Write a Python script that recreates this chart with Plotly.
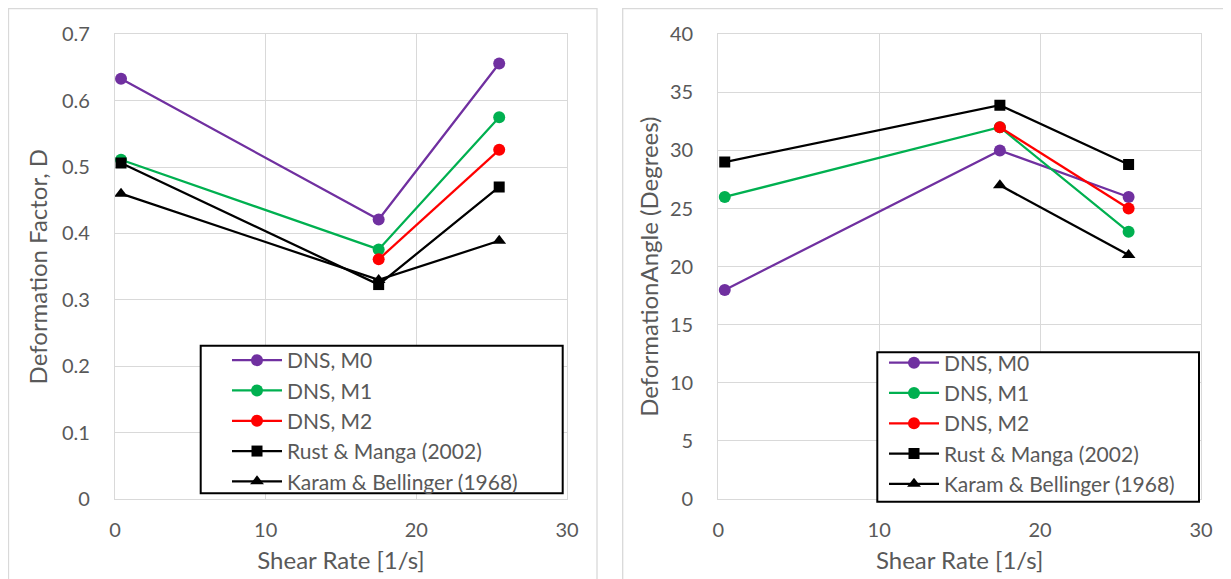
import plotly.graph_objects as go

# ---------------- data ----------------
shear_rate = [0.4, 17.5, 25.5]
shear_rate_m2 = [17.5, 25.5]
shear_rate_karam_ang = [17.5, 25.5]

d_m0 = [0.633, 0.421, 0.656]
d_m1 = [0.511, 0.376, 0.575]
d_m2 = [0.361, 0.526]
d_rust = [0.506, 0.323, 0.470]
d_karam = [0.460, 0.330, 0.389]

ang_m0 = [18, 30, 26]
ang_m1 = [26, 32, 23]
ang_m2 = [32, 25]
ang_rust = [29, 33.9, 28.8]
ang_karam = [27, 21]

names = ["DNS, M0", "DNS, M1", "DNS, M2", "Rust & Manga (2002)", "Karam & Bellinger (1968)"]
colors = ["#7030A0", "#00B050", "#FF0000", "#000000", "#000000"]
symbols = ["circle", "circle", "circle", "square", "triangle-up"]
sizes = [12, 12, 12, 11, 12]

W, H = 1231, 579
OFF = 8  # page body margin offset
FONT = "Lato"
GRAY = "#595959"
GRID = "#D9D9D9"


def px_x(p):
    return (p - OFF) / W


def px_y(p):
    return 1 - (p - OFF) / H


fig = go.Figure()

left_series = [(shear_rate, d_m0), (shear_rate, d_m1), (shear_rate_m2, d_m2),
               (shear_rate, d_rust), (shear_rate, d_karam)]
right_series = [(shear_rate, ang_m0), (shear_rate, ang_m1), (shear_rate_m2, ang_m2),
                (shear_rate, ang_rust), (shear_rate_karam_ang, ang_karam)]

for i, (xs, ys) in enumerate(left_series):
    fig.add_trace(go.Scatter(
        x=xs, y=ys, name=names[i], mode="lines+markers",
        line=dict(color=colors[i], width=2.25),
        marker=dict(color=colors[i], symbol=symbols[i], size=sizes[i]),
        xaxis="x", yaxis="y", legend="legend"))

for i, (xs, ys) in enumerate(right_series):
    fig.add_trace(go.Scatter(
        x=xs, y=ys, name=names[i], mode="lines+markers",
        line=dict(color=colors[i], width=2.25),
        marker=dict(color=colors[i], symbol=symbols[i], size=sizes[i]),
        xaxis="x2", yaxis="y2", legend="legend2"))

axis_common = dict(
    showgrid=True, gridcolor=GRID, gridwidth=1.3,
    showline=True, linecolor=GRID, linewidth=1.3, mirror=True,
    zeroline=False, ticks="", automargin=False,
    tickfont=dict(family=FONT, size=20, color=GRAY),
)
title_font = dict(family=FONT, size=24, color=GRAY)
legend_font = dict(family=FONT, size=21, color=GRAY)

ydom = [px_y(499), px_y(34.3)]

fig.update_layout(
    width=W, height=H,
    margin=dict(l=0, r=0, t=0, b=0, autoexpand=False),
    paper_bgcolor="white", plot_bgcolor="white",
    font=dict(family=FONT, color=GRAY),
    xaxis=dict(domain=[px_x(115), px_x(567)], range=[0, 30], dtick=10,
               ticklabelstandoff=13,
               title=dict(text="Shear Rate [1/s]", font=title_font, standoff=12),
               anchor="y", **axis_common),
    yaxis=dict(domain=ydom, range=[0, 0.7], dtick=0.1,
               ticklabelstandoff=20,
               title=dict(text="Deformation Factor, D", font=title_font, standoff=7),
               anchor="x", **axis_common),
    xaxis2=dict(domain=[px_x(718.3), px_x(1201)], range=[0, 30], dtick=10,
                ticklabelstandoff=13,
                title=dict(text="Shear Rate [1/s]", font=title_font, standoff=12),
                anchor="y2", **axis_common),
    yaxis2=dict(domain=ydom, range=[0, 40], dtick=5,
                ticklabelstandoff=20,
                title=dict(text="DeformationAngle (Degrees)", font=title_font, standoff=4),
                anchor="x2", **axis_common),
    legend=dict(x=px_x(227), y=px_y(340), xanchor="left", yanchor="top",
                bgcolor="rgba(0,0,0,0)", borderwidth=0, itemwidth=50,
                font=legend_font, tracegroupgap=0),
    legend2=dict(x=px_x(884), y=px_y(342.5), xanchor="left", yanchor="top",
                 bgcolor="rgba(0,0,0,0)", borderwidth=0, itemwidth=50,
                 font=legend_font, tracegroupgap=0),
    showlegend=True,
)

shapes = [
    # outer chart borders
    dict(type="rect", xref="paper", yref="paper", x0=px_x(8.5), x1=px_x(597), y0=px_y(620), y1=px_y(8.5),
         line=dict(color=GRID, width=1.3), fillcolor="rgba(0,0,0,0)", layer="below"),
    dict(type="rect", xref="paper", yref="paper", x0=px_x(622.7), x1=px_x(1229), y0=px_y(620), y1=px_y(8.5),
         line=dict(color=GRID, width=1.3), fillcolor="rgba(0,0,0,0)", layer="below"),
    # legend boxes
    dict(type="rect", xref="paper", yref="paper", x0=px_x(200.7), x1=px_x(562.7), y0=px_y(493.3), y1=px_y(345.7),
         line=dict(color="black", width=2), fillcolor="white", layer="above"),
    dict(type="rect", xref="paper", yref="paper", x0=px_x(877.3), x1=px_x(1199), y0=px_y(501.7), y1=px_y(352.3),
         line=dict(color="black", width=2), fillcolor="white", layer="above"),
]
fig.update_layout(shapes=shapes)

fig.write_html("out.html")
